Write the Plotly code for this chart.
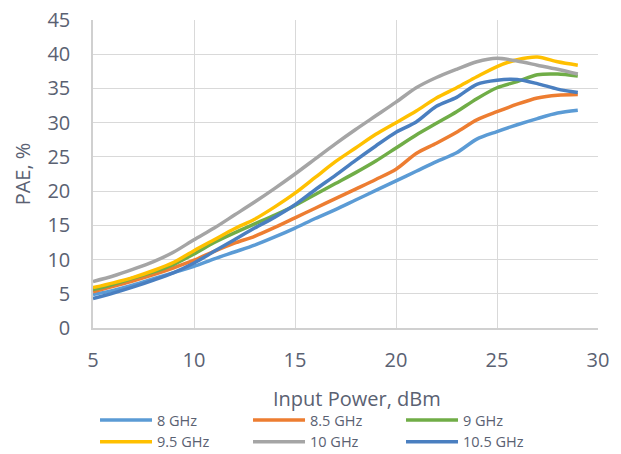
import plotly.graph_objects as go

x_dbm = list(range(5, 30))

pae_8 = [4.9, 5.5, 6.3, 7.2, 8.1, 9.0, 10.1, 11.1, 12.1, 13.3, 14.6, 16.0, 17.3, 18.7, 20.1, 21.5, 22.9, 24.3, 25.6, 27.6, 28.7, 29.7, 30.6, 31.4, 31.8]
pae_8_5 = [5.3, 6.1, 6.9, 7.8, 8.8, 9.9, 11.2, 12.4, 13.4, 14.7, 16.1, 17.5, 18.9, 20.3, 21.7, 23.2, 25.5, 27.0, 28.6, 30.4, 31.6, 32.7, 33.6, 34.0, 34.1]
pae_9 = [5.6, 6.4, 7.3, 8.2, 9.3, 10.8, 12.5, 13.9, 15.2, 16.5, 17.9, 19.5, 21.1, 22.7, 24.4, 26.3, 28.2, 29.9, 31.6, 33.5, 35.1, 36.0, 37.0, 37.1, 36.8]
pae_9_5 = [5.9, 6.6, 7.4, 8.4, 9.6, 11.3, 12.9, 14.5, 15.9, 17.7, 19.7, 22.0, 24.3, 26.3, 28.3, 30.0, 31.7, 33.6, 35.1, 36.7, 38.2, 39.2, 39.6, 38.9, 38.4]
pae_10 = [6.8, 7.6, 8.6, 9.7, 11.1, 12.9, 14.6, 16.5, 18.4, 20.4, 22.5, 24.7, 26.9, 29.0, 31.0, 33.0, 35.1, 36.6, 37.8, 38.9, 39.4, 39.0, 38.4, 37.8, 37.1]
pae_10_5 = [4.3, 5.1, 6.0, 7.0, 8.1, 9.5, 11.2, 12.9, 14.6, 16.2, 18.0, 20.2, 22.3, 24.5, 26.6, 28.6, 30.1, 32.4, 33.7, 35.6, 36.2, 36.3, 35.7, 34.9, 34.4]

series_names = ["8 GHz", "8.5 GHz", "9 GHz", "9.5 GHz", "10 GHz", "10.5 GHz"]
series_values = [pae_8, pae_8_5, pae_9, pae_9_5, pae_10, pae_10_5]
series_colors = ["#5B9BD5", "#ED7D31", "#70AD47", "#FFC000", "#A5A5A5", "#4A7FC0"]

x_ticks = [5, 10, 15, 20, 25, 30]
y_ticks = [0, 5, 10, 15, 20, 25, 30, 35, 40, 45]
x_title = "Input Power, dBm"
y_title = "PAE, %"

text_color = "#5A6172"
grid_color = "#D9D9D9"
font_family = "Open Sans"

fig = go.Figure()
for name, vals, col in zip(series_names, series_values, series_colors):
    fig.add_trace(go.Scatter(
        x=x_dbm, y=vals, name=name, mode="lines",
        line=dict(color=col, width=3.5, shape="spline", smoothing=0.8),
    ))

fig.update_layout(
    width=621, height=454,
    margin=dict(l=93, r=23, t=20, b=126, autoexpand=False),
    paper_bgcolor="white", plot_bgcolor="white",
    font=dict(family=font_family, color=text_color, size=20),
    showlegend=True,
    legend=dict(
        orientation="h", xref="container", x=0.153, xanchor="left",
        yref="container", y=0.110, yanchor="top",
        font=dict(family=font_family, size=14.5, color=text_color),
        entrywidth=86, entrywidthmode="pixels",
        tracegroupgap=0, itemwidth=52,
        bgcolor="rgba(0,0,0,0)",
    ),
    annotations=[dict(
        text=x_title, xref="paper", yref="paper", x=0.522, y=0,
        xanchor="center", yanchor="middle", yshift=-70, showarrow=False,
        font=dict(size=20, color=text_color, family=font_family),
    )],
)

fig.update_xaxes(
    range=[5, 30], tickvals=x_ticks, ticktext=[str(v) for v in x_ticks],
    showgrid=True, gridcolor=grid_color, gridwidth=1.3,
    showline=True, linecolor="#D0D0D0", linewidth=1.5,
    zeroline=False, ticks="", ticklabelstandoff=13, automargin=False,
    tickfont=dict(size=20, color=text_color, family=font_family),
)
fig.update_yaxes(
    range=[0, 45], tickvals=y_ticks, ticktext=[str(v) for v in y_ticks],
    showgrid=True, gridcolor=grid_color, gridwidth=1.3,
    showline=True, linecolor="#D0D0D0", linewidth=1.5,
    zeroline=False, ticks="", ticklabelstandoff=17, automargin=False,
    tickfont=dict(size=20, color=text_color, family=font_family),
    title=dict(text=y_title, font=dict(size=20, color=text_color, family=font_family), standoff=11),
)

fig.write_html("out.html", config={"displayModeBar": False},
               post_script="document.body.style.margin='0';")
